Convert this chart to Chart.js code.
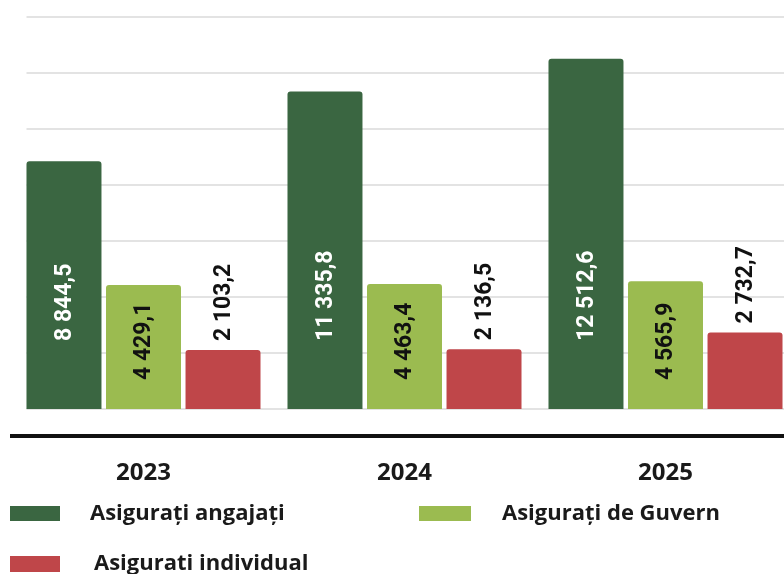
<!DOCTYPE html>
<html>
<head>
<meta charset="utf-8">
<script src="https://cdn.jsdelivr.net/npm/chart.js@4.4.1/dist/chart.umd.min.js"></script>
<style>
  html, body { margin: 0; padding: 0; background: #fff; overflow: hidden; }
  #wrap { width: 784px; height: 574px; overflow: hidden; }
</style>
</head>
<body>
<div id="wrap"><canvas id="chart" width="800" height="574"></canvas></div>
<script>
const years = ['2023', '2024', '2025'];
const angajati = [8844.5, 11335.8, 12512.6];
const guvern = [4429.1, 4463.4, 4565.9];
const individual = [2103.2, 2136.5, 2732.7];
const seriesNames = ['Asigurați angajați', 'Asigurați de Guvern', 'Asigurati individual'];
const yTicks = [0, 2000, 4000, 6000, 8000, 10000, 12000, 14000];

const colors = ['#3a6641', '#9bbb50', '#bf4649'];

// 8844.5 -> "8 844,5"
function fmt(v) {
    const parts = v.toFixed(1).split('.');
    return parts[0].replace(/\B(?=(\d{3})+(?!\d))/g, ' ') + ',' + parts[1];
}

// light grid lines, starting at the first bar like in the original
const gridPlugin = {
    id: 'grid',
    beforeDatasetsDraw(chart) {
        const ctx = chart.ctx;
        const y = chart.scales.y;
        const first = chart.getDatasetMeta(0).data[0];
        const left = first.x - first.width / 2;
        ctx.save();
        ctx.strokeStyle = '#e3e3e3';
        ctx.lineWidth = 2;
        y.ticks.forEach(t => {
            const py = Math.round(y.getPixelForValue(t.value));
            ctx.beginPath();
            ctx.moveTo(left, py);
            ctx.lineTo(chart.width, py);
            ctx.stroke();
        });
        ctx.restore();
    }
};

// rotated value labels
const labelPlugin = {
    id: 'valueLabels',
    afterDatasetsDraw(chart) {
        const ctx = chart.ctx;
        const base = chart.scales.y.getPixelForValue(0);
        ctx.save();
        ctx.font = 'bold 23px Roboto';
        ctx.textAlign = 'left';
        ctx.textBaseline = 'middle';
        chart.data.datasets.forEach((ds, i) => {
            chart.getDatasetMeta(i).data.forEach((bar, j) => {
                let start;
                if (i === 0) start = base - 68;
                else if (i === 1) start = base - 29;
                else start = bar.y - 9;
                ctx.fillStyle = i === 0 ? '#ffffff' : '#111111';
                ctx.save();
                ctx.translate(bar.x, start);
                ctx.rotate(-Math.PI / 2);
                ctx.fillText(fmt(ds.data[j]), 0, 1);
                ctx.restore();
            });
        });
        ctx.restore();
    }
};

// thick black rule under the plot and the custom two-column legend
const extrasPlugin = {
    id: 'extras',
    afterDraw(chart) {
        const ctx = chart.ctx;
        const area = chart.chartArea;
        ctx.save();
        ctx.fillStyle = '#111111';
        ctx.fillRect(10, area.bottom + 25, chart.width, 4);

        const items = [
            { box: [10, 506, 50, 15], tx: 90 },
            { box: [419, 506, 52, 15], tx: 502 },
            { box: [10, 556, 50, 16], tx: 94 }
        ];
        ctx.font = 'bold 22px "Open Sans"';
        ctx.textAlign = 'left';
        ctx.textBaseline = 'middle';
        items.forEach((it, i) => {
            const [bx, by, bw, bh] = it.box;
            ctx.fillStyle = chart.data.datasets[i].backgroundColor;
            ctx.fillRect(bx, by, bw, bh);
            ctx.fillStyle = '#1a1a1a';
            ctx.fillText(chart.data.datasets[i].label, it.tx, by + bh / 2);
        });
        ctx.restore();
    }
};

new Chart(document.getElementById('chart'), {
    type: 'bar',
    data: {
        labels: years,
        datasets: [
            { label: seriesNames[0], data: angajati, backgroundColor: colors[0] },
            { label: seriesNames[1], data: guvern, backgroundColor: colors[1] },
            { label: seriesNames[2], data: individual, backgroundColor: colors[2] }
        ]
    },
    options: {
        responsive: false,
        animation: false,
        events: [],
        layout: { padding: { left: 13, right: 4, top: 17, bottom: 36.2 } },
        datasets: {
            bar: {
                categoryPercentage: 0.914,
                barPercentage: 0.943,
                borderRadius: 3
            }
        },
        plugins: {
            legend: { display: false },
            tooltip: { enabled: false }
        },
        scales: {
            x: {
                grid: { display: false, drawTicks: false },
                border: { display: false },
                ticks: {
                    color: '#1a1a1a',
                    padding: 50,
                    font: { family: 'Open Sans', size: 24, weight: 'bold' }
                }
            },
            y: {
                min: 0,
                max: 14000,
                afterBuildTicks(scale) {
                    scale.ticks = yTicks.map(v => ({ value: v }));
                },
                grid: { display: false, drawTicks: false },
                border: { display: false },
                ticks: { display: false }
            }
        }
    },
    plugins: [gridPlugin, labelPlugin, extrasPlugin]
});
</script>
</body>
</html>
